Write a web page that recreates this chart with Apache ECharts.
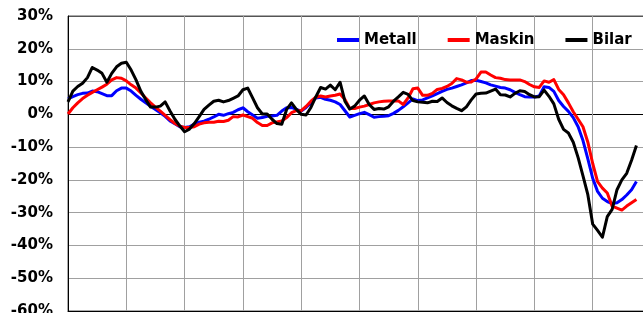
<!DOCTYPE html>
<html><head><meta charset="utf-8">
<script src="https://cdn.jsdelivr.net/npm/echarts@6/dist/echarts.min.js"></script>
<style>html,body{margin:0;padding:0;background:#fff}#c{width:643px;height:313px}</style>
</head><body><div id="c"></div>
<script>
// Monthly positions (index 0..120), 12 months per vertical gridline
var categories = [];
for (var k = 0; k <= 120; k++) categories.push(String(k));

var yTicks = ['-60%','-50%','-40%','-30%','-20%','-10%','0%','10%','20%','30%'];

var metall = [4.7,5.4,6.0,6.4,6.5,7.1,6.9,6.3,5.7,5.7,7.2,8.0,8.0,7.1,5.8,4.6,3.5,2.5,1.5,0.5,
 -0.6,-2.0,-2.9,-3.8,-4.0,-3.8,-3.0,-2.4,-2.1,-1.5,-0.8,0,-0.3,0.2,0.6,1.4,2.0,0.8,-0.2,-1.2,
 -1.0,-0.6,-0.5,-0.3,1.0,2.0,2.1,1.5,1.0,2.1,3.5,5.0,5.2,4.6,4.3,3.8,3.0,1.1,-0.8,-0.3,
 0.2,0.6,-0.1,-0.9,-0.7,-0.6,-0.4,0.3,1.2,2.3,3.5,4.7,4.2,4.4,5.0,5.6,6.3,7.0,7.6,8.0,
 8.5,9.0,9.6,10.3,10.4,10.0,9.6,9.0,8.6,8.2,8.0,7.5,6.7,6.0,5.4,5.3,5.3,5.6,8.4,8.2,
 7.0,4.2,2.4,0.9,-1.0,-3.8,-8.0,-13.6,-19.5,-23.5,-25.6,-26.6,-27.2,-27.0,-26.0,-24.6,-23.0,-20.5];

var maskin = [0.1,2.0,3.5,4.8,5.8,6.7,7.5,8.3,9.2,10.5,11.2,11.0,10.2,9.0,8.0,6.5,5.0,3.5,2.2,1.0,
 -0.3,-1.6,-2.8,-3.6,-4.0,-4.0,-3.8,-3.0,-2.6,-2.4,-2.4,-2.1,-2.2,-1.8,-0.7,-0.8,-0.2,-0.7,-1.2,-2.5,
 -3.4,-3.4,-2.6,-2.3,-2.0,-1.0,0.5,1.1,1.1,2.4,4.0,5.2,5.6,5.3,5.6,5.8,6.2,4.5,1.8,1.8,
 2.2,2.5,3.0,3.5,3.8,4.0,4.1,4.1,4.1,3.0,5.0,7.8,8.0,5.8,5.8,6.4,7.6,7.9,8.5,9.4,
 10.9,10.5,9.8,9.9,10.8,12.9,12.9,12.0,11.2,11.0,10.6,10.5,10.5,10.5,10.0,9.1,8.4,8.2,10.2,9.8,
 10.6,7.6,6.0,3.5,0.8,-1.5,-3.8,-8.5,-15.0,-20.5,-22.5,-24.0,-28.0,-28.6,-29.2,-28.0,-27.0,-26.0];

var bilar = [3.8,7.1,8.5,9.5,11.2,14.3,13.5,12.5,9.8,12.5,14.5,15.6,15.9,13.5,10.5,7.0,4.5,2.2,2.2,2.5,
 3.8,1.0,-1.5,-3.5,-5.3,-4.5,-2.8,-0.7,1.5,2.8,4.0,4.3,3.8,4.2,4.9,5.6,7.5,8.0,5.0,2.0,
 0.1,0.1,-1.5,-2.8,-3.0,1.5,3.5,1.5,0,-0.2,2.1,5.3,8.2,7.7,8.9,7.5,9.8,4.0,1.6,2.5,
 4.3,5.6,3.0,1.5,1.8,1.6,2.3,4.0,5.3,6.7,6.1,4.2,3.8,3.7,3.5,4.0,3.9,5.0,3.6,2.6,
 1.8,1.1,2.3,4.4,6.2,6.4,6.5,7.1,7.7,6.0,5.9,5.3,6.4,7.2,7.0,6.0,5.3,5.4,7.4,5.5,
 3.2,-1.5,-4.6,-5.7,-8.5,-13.2,-18.8,-24.5,-33.5,-35.4,-37.5,-31.2,-29.0,-23.0,-20.0,-18.0,-14.0,-9.5];

var seriesNames = ['Metall','Maskin','Bilar'];
var seriesColors = ['#0000ff','#ff0000','#000000'];
var seriesData = [metall, maskin, bilar];

var FONT = '"DejaVu Sans", sans-serif';
var chart = echarts.init(document.getElementById('c'), null, {renderer: 'canvas'});
chart.setOption({
  animation: false,
  backgroundColor: '#ffffff',
  grid: {left: 68, top: 16, width: 583, height: 295, show: true, borderColor: '#555', borderWidth: 1,
         containLabel: false, outerBoundsMode: 'none'},
  legend: {
    data: seriesNames,
    left: 337, top: 32, padding: 0,
    icon: 'rect', itemWidth: 22, itemHeight: 4, itemGap: 31,
    textStyle: {fontFamily: FONT, fontWeight: 'bold', fontSize: 15, color: '#000', lineHeight: 16}
  },
  xAxis: {
    type: 'category', data: categories, boundaryGap: false,
    axisLine: {show: true, onZero: false, lineStyle: {color: '#000', width: 1}},
    axisTick: {show: false}, axisLabel: {show: false},
    splitLine: {show: true, interval: function (i) { return i % 12 === 0; }, lineStyle: {color: '#a0a0a0', width: 1}}
  },
  yAxis: {
    type: 'value', min: -60, max: 30, interval: 10,
    axisLine: {show: true, lineStyle: {color: '#000', width: 1}},
    axisTick: {show: false},
    axisLabel: {
      margin: 15, fontFamily: FONT, fontWeight: 'bold', fontSize: 15, color: '#000',
      formatter: function (v) { return yTicks[Math.round((v + 60) / 10)]; }
    },
    splitLine: {show: true, lineStyle: {color: ['#000','#a0a0a0','#a0a0a0','#a0a0a0','#a0a0a0','#a0a0a0','#000','#a0a0a0','#a0a0a0','#555'], width: 1}}
  },
  series: seriesNames.map(function (n, i) {
    return {
      name: n, type: 'line', data: seriesData[i], symbol: 'none', smooth: false,
      lineStyle: {color: seriesColors[i], width: 3, join: 'round'},
      itemStyle: {color: seriesColors[i]}
    };
  })
});
</script></body></html>
